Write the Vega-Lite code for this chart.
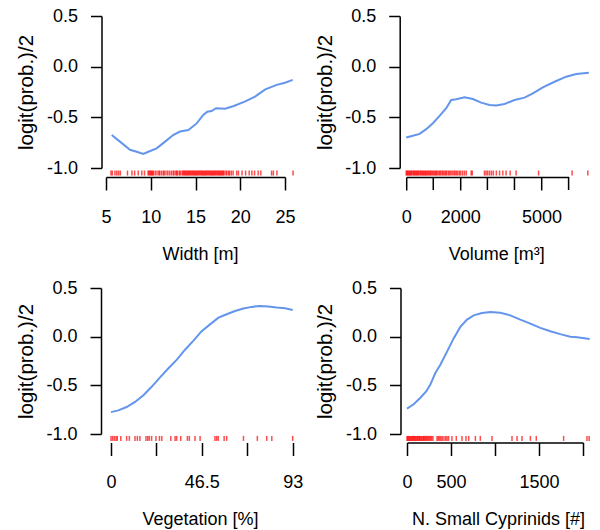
{
  "$schema": "https://vega.github.io/schema/vega-lite/v6.json",
  "padding": {"left": 16, "top": 7, "right": 0, "bottom": 0},
  "background": "white",
  "config": {
    "view": {"stroke": null},
    "font": "Liberation Sans",
    "axis": {
      "domainColor": "#000", "domainWidth": 1.5, "tickColor": "#000", "tickWidth": 1.5,
      "labelColor": "#000", "titleColor": "#000", "labelFont": "Liberation Sans", "titleFont": "Liberation Sans",
      "labelFontSize": 18, "titleFontSize": 18, "titleFontWeight": "normal", "grid": false,
      "labelOverlap": false, "labelFlush": false, "labelBound": false
    },
    "axisX": {"tickSize": 13, "labelPadding": 18, "labelAngle": 0, "titlePadding": 19.5, "labelOverlap": false},
    "axisY": {"tickSize": 11, "labelPadding": 13, "titleFontSize": 20.5, "titlePadding": 9.5, "labelOverlap": false}
  },
  "datasets": {
    "width_curve": [
      {"x": 5.64, "y": -0.675}, {"x": 6.56, "y": -0.74}, {"x": 7.68, "y": -0.82}, {"x": 8.43, "y": -0.84},
      {"x": 9.17, "y": -0.862}, {"x": 9.73, "y": -0.84}, {"x": 10.66, "y": -0.806}, {"x": 11.6, "y": -0.74},
      {"x": 12.5, "y": -0.675}, {"x": 13.27, "y": -0.64}, {"x": 14.2, "y": -0.625}, {"x": 15.13, "y": -0.56},
      {"x": 15.87, "y": -0.477}, {"x": 16.32, "y": -0.445}, {"x": 16.8, "y": -0.438}, {"x": 17.29, "y": -0.41},
      {"x": 18.3, "y": -0.415}, {"x": 19.2, "y": -0.39}, {"x": 20.5, "y": -0.345}, {"x": 21.65, "y": -0.296},
      {"x": 22.8, "y": -0.224}, {"x": 24.07, "y": -0.18}, {"x": 25.0, "y": -0.158}, {"x": 25.86, "y": -0.13}
    ],
    "width_rug": [
      {"x": 5.56}, {"x": 5.7}, {"x": 6.0}, {"x": 6.2}, {"x": 6.4}, {"x": 6.6}, {"x": 7.4}, {"x": 7.9}, {"x": 8.2}, {"x": 8.6},
      {"x": 9.0}, {"x": 9.3}, {"x": 9.7}, {"x": 9.8}, {"x": 9.9}, {"x": 10.0}, {"x": 10.1}, {"x": 10.2}, {"x": 10.3}, {"x": 10.5},
      {"x": 10.7}, {"x": 10.9}, {"x": 11.0}, {"x": 11.2}, {"x": 11.4}, {"x": 11.5}, {"x": 11.7}, {"x": 11.9}, {"x": 12.1}, {"x": 12.3},
      {"x": 12.5}, {"x": 12.6}, {"x": 12.8}, {"x": 12.9}, {"x": 13.0}, {"x": 13.2}, {"x": 13.3}, {"x": 13.5}, {"x": 13.6}, {"x": 13.7},
      {"x": 13.8}, {"x": 13.9}, {"x": 14.0}, {"x": 14.1}, {"x": 14.2}, {"x": 14.3}, {"x": 14.4}, {"x": 14.5}, {"x": 14.6}, {"x": 14.7},
      {"x": 14.8}, {"x": 14.9}, {"x": 15.0}, {"x": 15.1}, {"x": 15.2}, {"x": 15.3}, {"x": 15.4}, {"x": 15.5}, {"x": 15.6}, {"x": 15.7},
      {"x": 15.8}, {"x": 15.9}, {"x": 16.0}, {"x": 16.1}, {"x": 16.2}, {"x": 16.3}, {"x": 16.4}, {"x": 16.5}, {"x": 16.6}, {"x": 16.7},
      {"x": 16.8}, {"x": 16.9}, {"x": 17.0}, {"x": 17.1}, {"x": 17.2}, {"x": 17.3}, {"x": 17.4}, {"x": 17.5}, {"x": 17.6}, {"x": 17.7},
      {"x": 17.8}, {"x": 17.9}, {"x": 18.0}, {"x": 18.1}, {"x": 18.2}, {"x": 18.4}, {"x": 18.5}, {"x": 18.7}, {"x": 18.8}, {"x": 19.0},
      {"x": 19.2}, {"x": 19.6}, {"x": 19.8}, {"x": 20.2}, {"x": 20.6}, {"x": 21.0}, {"x": 21.3}, {"x": 21.6}, {"x": 22.0}, {"x": 22.3},
      {"x": 23.5}, {"x": 23.7}, {"x": 24.1}, {"x": 25.9}
    ],
    "volume_curve": [
      {"x": 0, "y": -0.699}, {"x": 246, "y": -0.682}, {"x": 493, "y": -0.663}, {"x": 739, "y": -0.617},
      {"x": 985, "y": -0.558}, {"x": 1232, "y": -0.486}, {"x": 1478, "y": -0.41}, {"x": 1663, "y": -0.329},
      {"x": 1847, "y": -0.322}, {"x": 2155, "y": -0.302}, {"x": 2463, "y": -0.319}, {"x": 2771, "y": -0.355},
      {"x": 3079, "y": -0.378}, {"x": 3325, "y": -0.384}, {"x": 3633, "y": -0.368}, {"x": 4002, "y": -0.329},
      {"x": 4372, "y": -0.306}, {"x": 4680, "y": -0.263}, {"x": 5049, "y": -0.204}, {"x": 5480, "y": -0.149},
      {"x": 5911, "y": -0.099}, {"x": 6281, "y": -0.073}, {"x": 6749, "y": -0.06}
    ],
    "volume_rug": [
      {"x": 0}, {"x": 30}, {"x": 55}, {"x": 90}, {"x": 120}, {"x": 150}, {"x": 185}, {"x": 210}, {"x": 250}, {"x": 280},
      {"x": 310}, {"x": 345}, {"x": 380}, {"x": 410}, {"x": 440}, {"x": 470}, {"x": 510}, {"x": 540}, {"x": 575}, {"x": 610},
      {"x": 640}, {"x": 680}, {"x": 710}, {"x": 745}, {"x": 780}, {"x": 820}, {"x": 850}, {"x": 890}, {"x": 920}, {"x": 960},
      {"x": 1000}, {"x": 1040}, {"x": 1080}, {"x": 1110}, {"x": 1150}, {"x": 1200}, {"x": 1240}, {"x": 1280}, {"x": 1330}, {"x": 1370},
      {"x": 1420}, {"x": 1460}, {"x": 1500}, {"x": 1560}, {"x": 1600}, {"x": 1650}, {"x": 1700}, {"x": 1760}, {"x": 1800}, {"x": 1850},
      {"x": 1900}, {"x": 1960}, {"x": 2010}, {"x": 2080}, {"x": 2150}, {"x": 2220}, {"x": 2400}, {"x": 2440}, {"x": 2890}, {"x": 2950},
      {"x": 3010}, {"x": 3080}, {"x": 3150}, {"x": 3220}, {"x": 3330}, {"x": 3450}, {"x": 3570}, {"x": 3690}, {"x": 3840}, {"x": 4060},
      {"x": 4890}, {"x": 6130}, {"x": 6710}
    ],
    "volume_minor_ticks": [{"x": 1000}, {"x": 3000}, {"x": 4000}, {"x": 6000}],
    "veg_curve": [
      {"x": 0, "y": -0.775}, {"x": 3.75, "y": -0.757}, {"x": 8.0, "y": -0.723}, {"x": 12.3, "y": -0.671},
      {"x": 16.6, "y": -0.601}, {"x": 20.8, "y": -0.515}, {"x": 25.1, "y": -0.418}, {"x": 29.4, "y": -0.324},
      {"x": 33.6, "y": -0.238}, {"x": 37.9, "y": -0.134}, {"x": 42.2, "y": -0.04}, {"x": 46.4, "y": 0.057},
      {"x": 50.7, "y": 0.126}, {"x": 55.0, "y": 0.195}, {"x": 59.2, "y": 0.23}, {"x": 63.5, "y": 0.264},
      {"x": 67.7, "y": 0.289}, {"x": 72.0, "y": 0.306}, {"x": 76.3, "y": 0.316}, {"x": 80.5, "y": 0.31},
      {"x": 84.8, "y": 0.299}, {"x": 89.1, "y": 0.292}, {"x": 93.0, "y": 0.275}
    ],
    "veg_rug": [
      {"x": 0}, {"x": 0.85}, {"x": 1.7}, {"x": 2.6}, {"x": 3.2}, {"x": 5.0}, {"x": 8.0}, {"x": 9.4}, {"x": 12.3}, {"x": 13.5},
      {"x": 14.8}, {"x": 17.9}, {"x": 18.8}, {"x": 19.6}, {"x": 20.8}, {"x": 23.0}, {"x": 24.8}, {"x": 26.0}, {"x": 30.6}, {"x": 32.8},
      {"x": 33.6}, {"x": 35.7}, {"x": 39.1}, {"x": 40.1}, {"x": 43.0}, {"x": 45.6}, {"x": 53.2}, {"x": 54.1}, {"x": 54.9}, {"x": 57.9},
      {"x": 59.2}, {"x": 67.8}, {"x": 74.9}, {"x": 79.7}, {"x": 82.3}, {"x": 93.0}
    ],
    "cyp_curve": [
      {"x": 0, "y": -0.739}, {"x": 76, "y": -0.695}, {"x": 152, "y": -0.628}, {"x": 220, "y": -0.56},
      {"x": 265, "y": -0.492}, {"x": 322, "y": -0.374}, {"x": 379, "y": -0.289}, {"x": 455, "y": -0.154},
      {"x": 530, "y": -0.018}, {"x": 606, "y": 0.1}, {"x": 682, "y": 0.175}, {"x": 758, "y": 0.219},
      {"x": 852, "y": 0.243}, {"x": 947, "y": 0.253}, {"x": 1061, "y": 0.246}, {"x": 1174, "y": 0.219},
      {"x": 1288, "y": 0.175}, {"x": 1402, "y": 0.134}, {"x": 1515, "y": 0.09}, {"x": 1629, "y": 0.056},
      {"x": 1742, "y": 0.026}, {"x": 1856, "y": 0.0}, {"x": 1932, "y": -0.005}, {"x": 2076, "y": -0.025}
    ],
    "cyp_rug": [
      {"x": 0}, {"x": 8}, {"x": 17}, {"x": 25}, {"x": 36}, {"x": 44}, {"x": 55}, {"x": 63}, {"x": 72}, {"x": 83},
      {"x": 92}, {"x": 101}, {"x": 112}, {"x": 120}, {"x": 131}, {"x": 140}, {"x": 150}, {"x": 161}, {"x": 170}, {"x": 182},
      {"x": 190}, {"x": 201}, {"x": 212}, {"x": 222}, {"x": 233}, {"x": 245}, {"x": 256}, {"x": 268}, {"x": 280}, {"x": 295},
      {"x": 341}, {"x": 355}, {"x": 370}, {"x": 385}, {"x": 400}, {"x": 420}, {"x": 440}, {"x": 455}, {"x": 473}, {"x": 511},
      {"x": 560}, {"x": 625}, {"x": 670}, {"x": 701}, {"x": 777}, {"x": 833}, {"x": 966}, {"x": 1193}, {"x": 1250}, {"x": 1307},
      {"x": 1402}, {"x": 1469}, {"x": 1780}, {"x": 2045}, {"x": 2070}
    ]
  },
  "columns": 1,
  "align": "none",
  "spacing": 15,
  "concat": [
    {
      "spacing": 17.2,
      "hconcat": [
        {
          "width": 179, "height": 152,
          "layer": [
            {
              "data": {"name": "width_curve"},
              "mark": {"type": "line", "color": "#6495ED", "strokeWidth": 2},
              "encoding": {
                "x": {"field": "x", "type": "quantitative", "scale": {"domain": [5, 25], "nice": false, "zero": false},
                      "axis": {"values": [5, 10, 15, 20, 25], "labelOverlap": false, "title": "Width [m]", "offset": 9, "titleX": 94}},
                "y": {"field": "y", "type": "quantitative", "scale": {"domain": [-1, 0.5], "nice": false, "zero": false},
                      "axis": {"values": [-1, -0.5, 0, 0.5], "labelExpr": "replace(format(datum.value, '.1f'), '\u2212', '-')", "title": "logit(prob.)/2", "offset": 4.5}}
              }
            },
            {
              "data": {"name": "width_rug"},
              "mark": {"type": "tick", "orient": "vertical", "color": "#ff0000", "size": 5, "thickness": 1.5},
              "encoding": {"x": {"field": "x", "type": "quantitative"}, "y": {"datum": -1.05}}
            }
          ]
        },
        {
          "width": 162.4, "height": 152,
          "layer": [
            {
              "data": {"name": "volume_curve"},
              "mark": {"type": "line", "color": "#6495ED", "strokeWidth": 2},
              "encoding": {
                "x": {"field": "x", "type": "quantitative", "scale": {"domain": [0, 6000], "nice": false, "zero": false},
                      "axis": {"values": [0, 2000, 5000], "format": "d", "labelOverlap": false, "title": "Volume [m³]", "offset": 9, "titleX": 90}},
                "y": {"field": "y", "type": "quantitative", "scale": {"domain": [-1, 0.5], "nice": false, "zero": false},
                      "axis": {"values": [-1, -0.5, 0, 0.5], "labelExpr": "replace(format(datum.value, '.1f'), '\u2212', '-')", "title": "logit(prob.)/2", "offset": 6.5}}
              }
            },
            {
              "data": {"name": "volume_rug"},
              "mark": {"type": "tick", "orient": "vertical", "color": "#ff0000", "size": 5, "thickness": 1.5},
              "encoding": {"x": {"field": "x", "type": "quantitative"}, "y": {"datum": -1.05}}
            },
            {
              "data": {"name": "volume_minor_ticks"},
              "mark": {"type": "rule", "color": "#000", "strokeWidth": 1.5},
              "encoding": {"x": {"field": "x", "type": "quantitative"}, "y": {"datum": -1.0888}, "y2": {"datum": -1.2171}}
            }
          ]
        }
      ]
    },
    {
      "spacing": 12,
      "hconcat": [
        {
          "width": 186.7, "height": 146,
          "layer": [
            {
              "data": {"name": "veg_curve"},
              "mark": {"type": "line", "color": "#6495ED", "strokeWidth": 2},
              "encoding": {
                "x": {"field": "x", "type": "quantitative", "scale": {"domain": [-2.56, 93], "nice": false, "zero": false},
                      "axis": {"values": [0, 23.25, 46.5, 69.75, 93], "domain": false, "labelOverlap": false, "labelPadding": 18, "titlePadding": 19, "labelExpr": "datum.value == 0 ? '0' : datum.value == 46.5 ? '46.5' : datum.value == 93 ? '93' : ''", "title": "Vegetation [%]", "offset": 8.5, "titleX": 94}},
                "y": {"field": "y", "type": "quantitative", "scale": {"domain": [-1, 0.5], "nice": false, "zero": false},
                      "axis": {"values": [-1, -0.5, 0, 0.5], "labelExpr": "replace(format(datum.value, '.1f'), '\u2212', '-')", "title": "logit(prob.)/2", "offset": 5}}
              }
            },
            {
              "data": {"name": "veg_rug"},
              "mark": {"type": "tick", "orient": "vertical", "color": "#ff0000", "size": 5, "thickness": 1.5},
              "encoding": {"x": {"field": "x", "type": "quantitative"}, "y": {"datum": -1.045}}
            },
            {
              "mark": {"type": "rule", "color": "#000", "strokeWidth": 1.5},
              "encoding": {"x": {"datum": 0}, "x2": {"datum": 93}, "y": {"datum": -1.0873}}
            }
          ]
        },
        {
          "width": 176, "height": 146,
          "layer": [
            {
              "data": {"name": "cyp_curve"},
              "mark": {"type": "line", "color": "#6495ED", "strokeWidth": 2},
              "encoding": {
                "x": {"field": "x", "type": "quantitative", "scale": {"domain": [0, 2000], "nice": false, "zero": false},
                      "axis": {"values": [0, 500, 1000, 1500, 2000], "labelOverlap": false, "labelPadding": 18, "titlePadding": 19, "labelExpr": "datum.value == 0 || datum.value == 500 || datum.value == 1500 ? format(datum.value, 'd') : ''", "title": "N. Small Cyprinids [#]", "offset": 8.5, "titleX": 91}},
                "y": {"field": "y", "type": "quantitative", "scale": {"domain": [-1, 0.5], "nice": false, "zero": false},
                      "axis": {"values": [-1, -0.5, 0, 0.5], "labelExpr": "replace(format(datum.value, '.1f'), '\u2212', '-')", "title": "logit(prob.)/2", "offset": 6.5}}
              }
            },
            {
              "data": {"name": "cyp_rug"},
              "mark": {"type": "tick", "orient": "vertical", "color": "#ff0000", "size": 5, "thickness": 1.5},
              "encoding": {"x": {"field": "x", "type": "quantitative"}, "y": {"datum": -1.045}}
            }
          ]
        }
      ]
    }
  ]
}
